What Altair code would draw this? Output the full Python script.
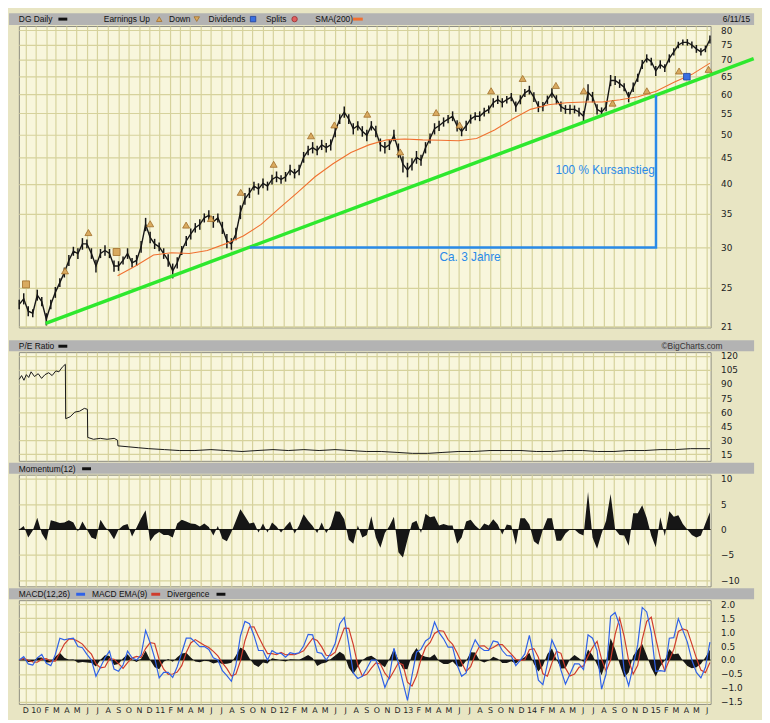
import altair as alt
import pandas as pd

# ---------------- data ----------------
price_start, price_end = "2009-11-13", "2015-06-11"
close = [
    23.2, 23.8, 22.5, 22.3, 24.2, 23.5, 21.7, 23.2, 24.5, 25.6,
    26.8, 28.3, 29.5, 29.2, 30.5, 30.5, 29.2, 27.6, 29.2, 29.6,
    29.2, 27.6, 27.6, 28.3, 29.2, 28.0, 28.3, 30.1, 33.3, 31.4,
    30.5, 30.1, 29.2, 28.3, 27.0, 28.0, 29.6, 30.9, 31.9, 32.8,
    33.3, 34.3, 34.7, 33.7, 34.3, 32.8, 30.9, 30.5, 31.9, 35.2,
    37.4, 38.4, 39.6, 39.1, 40.1, 39.6, 40.8, 41.3, 40.8, 41.3,
    42.6, 41.9, 42.6, 45.1, 46.5, 47.1, 46.5, 47.7, 47.1, 47.7,
    50.7, 53.6, 55.3, 53.6, 51.3, 52.0, 50.7, 49.8, 52.0, 50.7,
    47.7, 47.1, 47.7, 49.8, 46.5, 43.7, 42.6, 43.7, 45.1, 44.5,
    47.1, 49.1, 51.3, 52.0, 52.9, 53.6, 54.3, 52.0, 50.7, 52.0,
    53.6, 54.3, 54.3, 55.3, 56.0, 57.7, 58.5, 57.7, 58.5, 59.2,
    56.7, 58.5, 60.3, 61.1, 59.2, 56.7, 56.7, 58.5, 60.3, 58.5,
    56.7, 56.0, 56.0, 56.0, 55.3, 54.3, 60.5, 59.2, 56.0, 55.3,
    56.7, 63.8, 63.8, 62.9, 61.9, 59.2, 61.9, 64.6, 68.6, 70.5,
    69.5, 66.6, 68.6, 67.5, 70.5, 72.6, 74.9, 75.8, 75.8, 74.9,
    73.6, 72.6, 73.6, 76.8,
]
# half of each period's high-low range
spread = [
    0.5, 0.6, 0.5, 0.4, 0.6, 0.5, 0.6, 0.5, 0.6, 0.5,
    0.6, 0.7, 0.6, 0.7, 0.8, 0.6, 0.7, 0.8, 0.6, 0.7,
    0.6, 0.7, 0.6, 0.5, 0.7, 0.6, 0.7, 0.8, 1.0, 0.8,
    0.7, 0.6, 0.7, 0.8, 0.9, 0.7, 0.6, 0.7, 0.8, 0.7,
    0.8, 0.7, 0.8, 0.9, 0.7, 0.9, 1.0, 0.8, 0.9, 1.1,
    1.0, 0.9, 0.8, 1.0, 0.9, 0.8, 0.9, 1.0, 0.8, 0.9,
    1.0, 0.9, 1.0, 1.1, 1.0, 1.2, 1.0, 1.1, 1.0, 1.2,
    1.3, 1.2, 1.4, 1.2, 1.3, 1.1, 1.2, 1.3, 1.1, 1.3,
    1.4, 1.2, 1.1, 1.3, 1.5, 1.6, 1.4, 1.2, 1.3, 1.1,
    1.2, 1.1, 1.3, 1.2, 1.1, 1.0, 1.2, 1.3, 1.1, 1.2,
    1.1, 1.0, 1.2, 1.1, 1.0, 1.2, 1.1, 1.2, 1.0, 1.1,
    1.3, 1.2, 1.1, 1.2, 1.3, 1.4, 1.2, 1.1, 1.3, 1.2,
    1.3, 1.1, 1.2, 1.0, 1.1, 1.3, 2.2, 1.4, 1.3, 1.2,
    1.2, 1.6, 1.3, 1.2, 1.1, 1.4, 1.3, 1.2, 1.4, 1.3,
    1.2, 1.5, 1.3, 1.2, 1.3, 1.2, 1.1, 1.0, 1.1, 1.2,
    1.3, 1.2, 1.1, 1.4,
]
momentum = [
    0, 0.7, -1.6, -0.2, 2.3, -0.8, -2.2, 1.8, 1.6, 1.3,
    1.4, 1.8, 1.4, -0.4, 1.6, 0, -1.6, -1.9, 1.9, 0.5,
    -0.5, -1.9, 0, 0.8, 1.1, -1.4, 0.4, 2.2, 3.8, -2.3,
    -1.1, -0.5, -1.1, -1.1, -1.6, 1.2, 1.9, 1.6, 1.2, 1.1,
    0.6, 1.2, 0.5, -1.2, 0.7, -1.8, -2.3, -0.5, 1.7, 4.0,
    2.6, 1.2, 1.4, -0.6, 1.2, -0.6, 1.4, 0.6, -0.6, 0.6,
    1.6, -0.8, 0.8, 3.0, 1.7, 0.7, -0.7, 1.4, -0.7, 0.7,
    3.6, 3.5, 2.0, -2.0, -2.8, 0.8, -1.6, -1.1, 2.6, -1.6,
    -3.6, -0.7, 0.7, 2.5, -4.5, -5.5, -2.0, 1.3, 1.7, -0.7,
    3.1, 2.4, 2.6, 0.8, 1.1, 0.8, 0.8, -2.8, -1.6, 1.6,
    1.9, 0.8, 0, 1.2, 0.8, 2.0, 1.0, -1.0, 1.0, 0.8,
    -3.0, 2.2, 2.2, 1.0, -2.3, -3.0, 0, 2.2, 2.2, -2.2,
    -2.2, -0.8, 0, 0, -0.8, -1.2, 7.4, -1.6, -3.8, -0.8,
    1.7, 7.0, 0, -1.1, -1.2, -3.2, 3.2, 3.2, 4.8, 2.3,
    -1.2, -3.5, 2.4, -1.3, 3.6, 2.5, 2.8, 1.1, 0, -1.1,
    -1.6, -1.2, 1.2, 3.4,
]
macd = [
    0, 0.12, -0.14, -0.18, 0.08, 0.2, -0.12, -0.2, 0.2, 0.78,
    0.72, 0.76, 0.78, 0.48, 0.44, 0.2, 0, -0.58, -0.26, 0.08,
    0.32, -0.32, -0.4, -0.18, 0.32, 0.08, 0, 0.18, 1.06, 0.62,
    0.08, -0.64, -0.44, -0.44, -0.62, -0.24, 0.26, 0.78, 0.78, 0.64,
    0.48, 0.48, 0.38, 0.08, 0, -0.38, -0.56, -0.76, -0.18, 0.86,
    1.38, 1.3, 0.88, 0.34, 0.34, 0, 0.34, 0.24, 0.24, 0.1,
    0.26, 0.22, 0.26, 0.5, 0.92, 0.9, 0.28, 0.24, 0, 0.24,
    0.6, 1.3, 1.52, 0.58, -0.46, -0.66, -0.58, -0.3, 0, 0,
    -0.42, -0.98, -0.6, 0.42, -0.12, -0.8, -1.44, -0.56, 0.28, 0.38,
    0.68, 0.8, 1.36, 0.98, 0.76, 0.46, 0.46, -0.18, -0.58, -0.46,
    0.32, 0.72, 0.46, 0.34, 0.34, 0.68, 0.64, 0.34, 0.16, 0.14,
    -0.2, 0, 0.22, 0.88, 0.14, -0.72, -0.88, -0.14, 0.72, 0.36,
    -0.36, -0.86, -0.5, -0.14, -0.14, -0.34, 0.9, 0.78, 0.34, -1.04,
    -0.5, 1.56, 1.7, 1.24, -0.38, -0.92, -0.2, 0.54, 1.88, 1.72,
    0.98, -0.4, -0.38, -0.4, 0.78, 0.8, 1.48, 1.06, 0.64, 0,
    -0.44, -0.64, -0.26, 0.64,
]
signal = [
    0, 0.06, -0.01, -0.07, -0.08, 0.03, 0.05, -0.04, -0.04, 0.26,
    0.57, 0.75, 0.75, 0.67, 0.57, 0.37, 0.21, -0.13, -0.28, -0.25,
    0.05, 0.03, -0.13, -0.3, -0.09, 0.07, 0.13, 0.09, 0.41, 0.62,
    0.59, 0.02, -0.33, -0.51, -0.5, -0.43, -0.2, 0.27, 0.61, 0.73,
    0.63, 0.53, 0.45, 0.31, 0.15, -0.1, -0.31, -0.57, -0.5, -0.03,
    0.69, 1.18, 1.19, 0.84, 0.52, 0.23, 0.23, 0.19, 0.27, 0.19,
    0.2, 0.19, 0.25, 0.33, 0.56, 0.77, 0.7, 0.47, 0.17, 0.16,
    0.28, 0.71, 1.14, 1.13, 0.55, -0.18, -0.57, -0.51, -0.29, -0.1,
    -0.14, -0.47, -0.67, -0.39, -0.1, -0.17, -0.79, -0.93, -0.57, 0.03,
    0.45, 0.62, 0.95, 1.05, 1.03, 0.73, 0.56, 0.25, -0.1, -0.41,
    -0.24, 0.19, 0.5, 0.51, 0.38, 0.45, 0.55, 0.55, 0.38, 0.21,
    0.03, -0.02, 0.01, 0.37, 0.41, 0.1, -0.49, -0.58, -0.1, 0.31,
    0.24, -0.29, -0.57, -0.5, -0.26, -0.21, 0.14, 0.45, 0.67, 0.03,
    -0.4, 0.01, 0.92, 1.5, 0.85, -0.02, -0.5, -0.19, 0.74, 1.38,
    1.53, 0.77, 0.07, -0.39, 0, 0.39, 1.02, 1.11, 1.06, 0.57,
    0.07, -0.36, -0.45, -0.09,
]
divergence = [
    0, 0.03, -0.07, -0.06, 0.08, 0.09, -0.09, -0.08, 0.12, 0.26,
    0.08, 0.01, 0.02, -0.1, -0.07, -0.09, -0.11, -0.23, 0.01, 0.17,
    0.14, -0.18, -0.14, 0.06, 0.21, 0.01, -0.07, 0.05, 0.33, 0,
    -0.26, -0.33, -0.06, 0.04, -0.06, 0.1, 0.23, 0.26, 0.09, -0.05,
    -0.08, -0.03, -0.04, -0.12, -0.08, -0.14, -0.13, -0.1, 0.16, 0.45,
    0.35, 0.06, -0.16, -0.25, -0.09, -0.12, 0.06, 0.03, -0.02, -0.05,
    0.03, 0.02, 0.01, 0.09, 0.18, 0.07, -0.21, -0.12, -0.09, 0.04,
    0.16, 0.3, 0.19, -0.28, -0.5, -0.24, -0.01, 0.11, 0.15, 0.05,
    -0.14, -0.26, 0.04, 0.4, -0.01, -0.32, -0.33, 0.19, 0.43, 0.18,
    0.12, 0.09, 0.21, -0.04, -0.14, -0.14, -0.05, -0.22, -0.24, -0.03,
    0.28, 0.27, -0.02, -0.09, -0.02, 0.12, 0.05, -0.11, -0.11, -0.04,
    -0.12, 0.01, 0.11, 0.26, -0.14, -0.41, -0.2, 0.22, 0.41, 0.03,
    -0.3, -0.29, 0.04, 0.18, 0.06, -0.07, 0.38, 0.17, -0.17, -0.54,
    -0.05, 0.78, 0.39, -0.13, -0.62, -0.45, 0.15, 0.37, 0.57, 0.17,
    -0.28, -0.59, -0.23, -0.01, 0.39, 0.21, 0.23, -0.03, -0.21, -0.29,
    -0.26, -0.14, 0.1, 0.37,
]
sma_start, sma_end = "2010-08-30", "2015-06-11"
sma200 = [
    26.4, 27.6, 29.0, 29.3, 29.2, 29.6, 30.5, 31.6, 33.3, 35.8,
    38.4, 41.3, 43.8, 46.1, 47.7, 48.8, 49.0, 48.8, 48.7, 48.6,
    49.1, 51.0, 53.6, 56.0, 57.2, 57.7, 57.9, 57.9, 58.5, 59.3,
    60.8, 63.3, 65.6, 69.0,
]
pe_dates = [
    "2009-11-13", "2009-11-20", "2009-11-27", "2009-12-04", "2009-12-11",
    "2009-12-18", "2009-12-28", "2010-01-08", "2010-01-18", "2010-01-28",
    "2010-02-08", "2010-02-18", "2010-03-01", "2010-03-10", "2010-03-20",
    "2010-03-29", "2010-03-30", "2010-04-12", "2010-04-26", "2010-05-10",
    "2010-05-24", "2010-06-02", "2010-06-03", "2010-06-20", "2010-07-10",
    "2010-07-30", "2010-08-20", "2010-08-30", "2010-08-31", "2010-09-30",
    "2010-10-30", "2010-11-30", "2011-01-15", "2011-03-01", "2011-04-15",
    "2011-06-01", "2011-07-15", "2011-09-01", "2011-10-15", "2011-12-01",
    "2012-01-15", "2012-03-01", "2012-04-15", "2012-06-01", "2012-07-15",
    "2012-09-01", "2012-10-15", "2012-12-01", "2013-01-15", "2013-03-01",
    "2013-04-15", "2013-06-01", "2013-07-15", "2013-09-01", "2013-10-15",
    "2013-12-01", "2014-01-15", "2014-03-01", "2014-04-15", "2014-06-01",
    "2014-07-15", "2014-09-01", "2014-10-15", "2014-12-01", "2015-01-15",
    "2015-03-01", "2015-04-15", "2015-06-11",
]
pe_values = [
    95, 99, 94, 100, 97,
    103, 98, 101, 96, 100,
    102, 99, 104, 103, 108,
    111, 53, 55, 60, 61,
    64, 63, 33, 31, 32,
    31, 32, 30, 24, 23,
    22, 21, 20, 19, 19,
    20, 19, 18, 19, 20,
    19, 20, 19, 20, 19,
    18, 18, 17, 16, 16,
    17, 18, 18, 19, 19,
    19, 18, 18, 19, 19,
    18, 18, 19, 19, 20,
    20, 21, 21,
]
earn_dates = [
    "2009-12-03", "2010-03-28", "2010-06-05", "2010-08-27", "2010-12-04",
    "2011-03-20", "2011-06-01", "2011-08-28", "2011-12-03", "2012-03-22",
    "2012-05-30", "2012-09-04", "2012-12-10", "2013-03-26", "2013-06-03",
    "2013-09-04", "2013-12-06", "2014-03-14", "2014-06-04", "2014-08-28",
    "2014-12-07", "2015-03-12", "2015-06-07",
]
earn_values = [
    25.4, 27.0, 32.1, 29.4, 33.4, 33.2, 34.2, 38.5, 43.7, 49.7,
    52.2, 54.8, 46.2, 55.2, 52.2, 60.9, 64.4, 62.4, 60.9, 57.6,
    60.9, 66.6, 67.1,
]
earn_shapes = ["square", "triangle-up", "triangle-up", "square"] + ["triangle-up"] * 19
div_dates = ["2015-04-04"]
div_values = [64.9]
trend_dates = ["2010-01-30", "2015-10-18"]
trend_values = [21.3, 70.4]
guide_dates = ["2011-09-24", "2015-01-03", "2015-01-03"]
guide_values = [30.0, 30.0, 59.7]
note_dates = ["2014-08-06", "2013-07-04"]
note_values = [42.6, 28.7]
note_texts = ["100 % Kursanstieg", "Ca. 3 Jahre"]

price_ticks = [21, 25, 30, 35, 40, 45, 50, 55, 60, 65, 70, 75, 80]
pe_ticks = [15, 30, 45, 60, 75, 90, 105, 120]
mom_ticks = [-10, -5, 0, 5, 10]
macd_ticks = [-1.5, -1.0, -0.5, 0.0, 0.5, 1.0, 1.5, 2.0]

# ---------------- tables ----------------
daily = pd.DataFrame({
    "date": pd.date_range(price_start, price_end, periods=len(close)),
    "close": close, "spread": spread, "mom": momentum, "macd": macd,
    "signal": signal, "div": divergence,
})
daily["lo"] = daily["close"] - daily["spread"]
daily["hi"] = daily["close"] + daily["spread"]
sma_df = pd.DataFrame({"date": pd.date_range(sma_start, sma_end, periods=len(sma200)), "close": sma200})
pe_df = pd.DataFrame({"date": pd.to_datetime(pe_dates), "pe": pe_values})
earn_df = pd.DataFrame({"date": pd.to_datetime(earn_dates), "close": earn_values, "shape": earn_shapes})
div_df = pd.DataFrame({"date": pd.to_datetime(div_dates), "close": div_values})
trend_df = pd.DataFrame({"date": pd.to_datetime(trend_dates), "close": trend_values})
guide_df = pd.DataFrame({"date": pd.to_datetime(guide_dates), "close": guide_values, "o": [0, 1, 2]})
note_df = pd.DataFrame({"date": pd.to_datetime(note_dates), "close": note_values, "t": note_texts})
zero_df = pd.DataFrame({"z": [0.0]})
one = pd.DataFrame({"a": [0]})

# ---------------- styling ----------------
W = 700
H_PRICE, H_PE, H_MOM, H_MACD = 305, 110, 113, 105
BG = "#e8e5c3"
BAR = "#b3b3b3"
GRID = "#d6d29c"
FONT = "DejaVu Sans"
HFONT = "Liberation Sans"
XDOM = [alt.DateTime(year=2009, month=11, date=12), alt.DateTime(year=2015, month=6, date=13)]
MONTHS = {"interval": "month", "step": 1}


def xenc(bottom=False):
    if bottom:
        ax = alt.Axis(title=None, grid=True, tickCount=MONTHS, ticks=False, domain=False,
                      labelOverlap=False, labelPadding=3, labelFontSize=8, labelFont=FONT,
                      labelExpr="month(datum.value) == 0 ? timeFormat(datum.value, '%y') : "
                                "slice(timeFormat(datum.value, '%b'), 0, 1)")
    else:
        ax = alt.Axis(title=None, grid=True, tickCount=MONTHS, ticks=False, domain=False, labels=False)
    return alt.X("date:T", scale=alt.Scale(domain=XDOM), axis=ax)


def yenc(field, scale, values, fmt=None):
    kw = dict(orient="right", values=values, title=None, grid=True, ticks=False,
              domain=False, labelPadding=10, labelOverlap=False)
    if fmt:
        kw["format"] = fmt
    return alt.Y(field, scale=scale, axis=alt.Axis(**kw))


def rect(y1, y2, color):
    return alt.Chart(one).mark_rect(color=color).encode(
        x=alt.value(-10), x2=alt.value(744), y=alt.value(y1), y2=alt.value(y2))


def label(x, y, text, align="left", size=8.5, color="#111"):
    return alt.Chart(one).mark_text(text=text, align=align, baseline="middle", fontSize=size,
                                    font=HFONT, color=color).encode(x=alt.value(x), y=alt.value(y))


def dash(x1, x2, y, color, w=3):
    return alt.Chart(one).mark_rule(color=color, strokeWidth=w).encode(
        x=alt.value(x1), x2=alt.value(x2), y=alt.value(y))


def sym(x, y, shape, fill, stroke, size=30):
    return alt.Chart(one).mark_point(shape=shape, filled=True, fill=fill, stroke=stroke,
                                     strokeWidth=0.8, size=size, opacity=1).encode(
        x=alt.value(x), y=alt.value(y))


# ---------------- price panel ----------------
pscale = alt.Scale(type="log", domain=[20.91, 81.6], nice=False)
ypr = yenc("close:Q", pscale, price_ticks)

price_layers = [
    rect(-13, -1, BAR),
    label(0, -7, "DG Daily"), dash(40, 49, -7, "#111"),
    label(86, -7, "Earnings Up"), sym(142, -7, "triangle-up", "#d9aa60", "#a06d28"),
    label(152, -7, "Down"), sym(180, -7, "triangle-down", "#d9aa60", "#a06d28"),
    label(192, -7, "Dividends"), sym(237, -7, "square", "#3a6fe0", "#1d3f99"),
    label(250, -7, "Splits"), sym(279, -7, "circle", "#e06060", "#992a2a"),
    label(300, -7, "SMA(200)"), dash(338, 348, -7, "#f07030"),
    label(740, -7, "6/11/15", align="right"),
    alt.Chart(daily).mark_rule(color="#161616", strokeWidth=1.5).encode(
        x=xenc(), y=yenc("lo:Q", pscale, price_ticks), y2="hi:Q"),
    alt.Chart(daily).mark_line(color="#161616", strokeWidth=1.4).encode(x=xenc(), y=ypr),
    alt.Chart(sma_df).mark_line(color="#f07030", strokeWidth=1.1).encode(x=xenc(), y=ypr),
    alt.Chart(trend_df).mark_line(color="#2ee82e", strokeWidth=3.5).encode(x=xenc(), y=ypr),
    alt.Chart(guide_df).mark_line(color="#2a8ae8", strokeWidth=2.5).encode(
        x=xenc(), y=ypr, order="o:Q"),
    alt.Chart(earn_df).mark_point(filled=True, fill="#d9aa60", stroke="#a06d28", strokeWidth=0.8,
                                  size=50, opacity=1).encode(
        x=xenc(), y=ypr, shape=alt.Shape("shape:N", scale=None)),
    alt.Chart(div_df).mark_point(shape="square", filled=True, fill="#3a6fe0", stroke="#1d3f99",
                                 strokeWidth=0.8, size=45, opacity=1).encode(x=xenc(), y=ypr),
    alt.Chart(note_df).mark_text(color="#2a8ae8", fontSize=12, font="Liberation Sans").encode(
        x=xenc(), y=ypr, text="t:N"),
]
price = alt.layer(*price_layers).properties(width=W, height=H_PRICE)

# ---------------- P/E panel ----------------
pe_layers = [
    rect(-19, -12, BG),
    rect(-12, -1, BAR),
    label(0, -6, "P/E Ratio"), dash(40, 49, -6, "#111"),
    label(712, -6, "\u00a9BigCharts.com", align="right", color="#333"),
    alt.Chart(pe_df).mark_line(color="#161616", strokeWidth=1).encode(
        x=xenc(), y=yenc("pe:Q", alt.Scale(domain=[8, 124], nice=False, zero=False), pe_ticks)),
]
pe = alt.layer(*pe_layers).properties(width=W, height=H_PE)

# ---------------- Momentum panel ----------------
mscale = alt.Scale(domain=[-11.2, 10.8], nice=False, zero=False)
mom_layers = [
    rect(-12, -1, BAR),
    label(0, -6, "Momentum(12)"), dash(64, 73, -6, "#111"),
    alt.Chart(daily).mark_area(color="#161616", interpolate="linear").encode(
        x=xenc(), y=yenc("mom:Q", mscale, mom_ticks), y2=alt.datum(0)),
    alt.Chart(zero_df).mark_rule(color="#111", strokeWidth=1).encode(
        y=yenc("z:Q", mscale, mom_ticks)),
]
mom = alt.layer(*mom_layers).properties(width=W, height=H_MOM)

# ---------------- MACD panel ----------------
cscale = alt.Scale(domain=[-1.57, 2.14], nice=False, zero=False)
macd_layers = [
    rect(-12, -1, BAR),
    label(0, -6, "MACD(12,26)"), dash(58, 67, -6, "#2f62e8"),
    label(74, -6, "MACD EMA(9)"), dash(134, 143, -6, "#d03c2c"),
    label(150, -6, "Divergence"), dash(200, 209, -6, "#111"),
    alt.Chart(daily).mark_area(color="#161616", interpolate="linear").encode(
        x=xenc(True), y=yenc("div:Q", cscale, macd_ticks, ".1f"), y2=alt.datum(0)),
    alt.Chart(zero_df).mark_rule(color="#111", strokeWidth=1).encode(
        y=yenc("z:Q", cscale, macd_ticks, ".1f")),
    alt.Chart(daily).mark_line(color="#d03c2c", strokeWidth=1.2).encode(
        x=xenc(True), y=yenc("signal:Q", cscale, macd_ticks, ".1f")),
    alt.Chart(daily).mark_line(color="#2f62e8", strokeWidth=1.2).encode(
        x=xenc(True), y=yenc("macd:Q", cscale, macd_ticks, ".1f")),
]
macd_chart = alt.layer(*macd_layers).properties(width=W, height=H_MACD)

chart = alt.vconcat(price, pe, mom, macd_chart, spacing=0).properties(
    padding=0, background=BG
).configure_view(
    fill="#f8f6dc", stroke="#8c8c80", strokeWidth=1
).configure_axis(
    gridColor=GRID, gridWidth=1.2, labelFont=FONT, labelFontSize=9, labelColor="#222"
)

chart.save("out.html", embed_options={"renderer": "svg", "actions": False})
